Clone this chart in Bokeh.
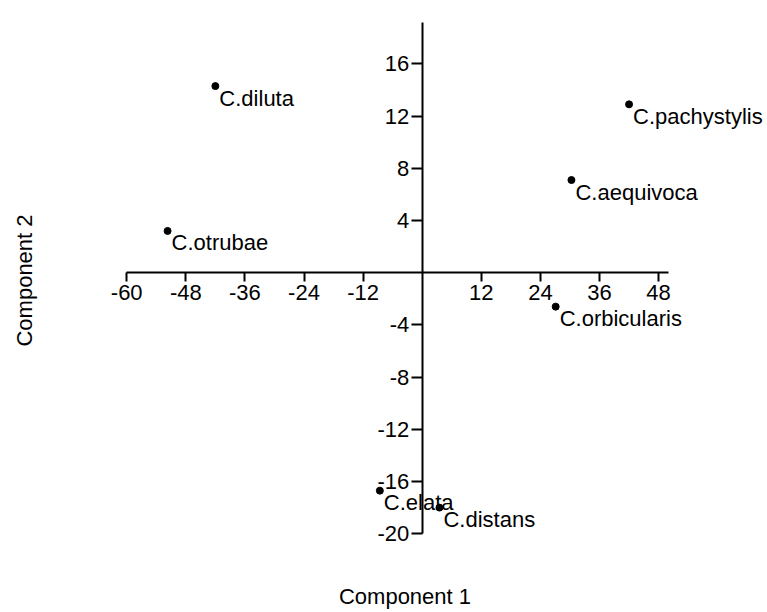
from bokeh.plotting import figure
from bokeh.models import Range1d, FixedTicker, LinearAxis, ColumnDataSource, PrintfTickFormatter
from bokeh.core.properties import value
from bokeh.embed import file_html
from bokeh.resources import INLINE

names = ["C.diluta", "C.otrubae", "C.pachystylis", "C.aequivoca",
         "C.orbicularis", "C.elata", "C.distans"]
comp1 = [-42.0, -51.7, 42.0, 30.3, 27.1, -8.6, 3.5]
comp2 = [14.3, 3.2, 12.9, 7.1, -2.6, -16.7, -18.0]
x_ticks = [-60, -48, -36, -24, -12, 12, 24, 36, 48]
y_ticks = [-20, -16, -12, -8, -4, 4, 8, 12, 16]

FONT = "Liberation Sans"
FS = "22px"

src = ColumnDataSource(dict(c1=comp1, c2=comp2, name=names))

p = figure(width=767, height=612,
           x_range=Range1d(-77.10, 70.11), y_range=Range1d(-22.054, 20.858),
           output_backend="svg", toolbar_location=None,
           min_border_left=42, min_border_right=0, min_border_top=0, min_border_bottom=52)
p.grid.visible = False
p.outline_line_color = None

xa = p.xaxis[0]
xa.fixed_location = 0
xa.ticker = FixedTicker(ticks=x_ticks)
xa.formatter = PrintfTickFormatter(format="%d")
xa.bounds = (-60, 50)
xa.major_tick_in = 0
xa.major_tick_out = 9
xa.minor_tick_line_color = None
xa.axis_line_width = 2
xa.major_tick_line_width = 2
xa.major_label_standoff = 3
xa.major_label_text_font = FONT
xa.major_label_text_font_size = FS
xa.major_label_text_color = "black"

ya = p.yaxis[0]
ya.fixed_location = 0
ya.ticker = FixedTicker(ticks=y_ticks)
ya.formatter = PrintfTickFormatter(format="%d")
ya.bounds = (-20, 19.2)
ya.major_tick_in = 0
ya.major_tick_out = 11
ya.minor_tick_line_color = None
ya.axis_line_width = 2
ya.major_tick_line_width = 2
ya.major_label_standoff = 2
ya.major_label_text_font = FONT
ya.major_label_text_font_size = FS
ya.major_label_text_color = "black"

def title_axis(label, bounds, standoff):
    ax = LinearAxis(ticker=FixedTicker(ticks=[]), bounds=bounds,
                    axis_line_color=None, major_tick_line_color=None,
                    minor_tick_line_color=None, major_label_text_font_size="0px",
                    axis_label=label, axis_label_text_font=FONT,
                    axis_label_text_font_size=FS, axis_label_text_font_style="normal",
                    axis_label_text_color="black", axis_label_standoff=standoff)
    return ax

p.add_layout(title_axis("Component 1", (-60, 50), 23), "below")
p.add_layout(title_axis("Component 2", (-19, 19.6), 6), "left")

p.scatter(x="c1", y="c2", source=src, size=7, color="black")
p.text(x="c1", y="c2", text="name", source=src, x_offset=4, y_offset=12,
       text_font=value(FONT), text_font_size=value(FS), text_baseline="alphabetic",
       text_color="black")

open("out.html", "w").write(file_html(p, INLINE))
